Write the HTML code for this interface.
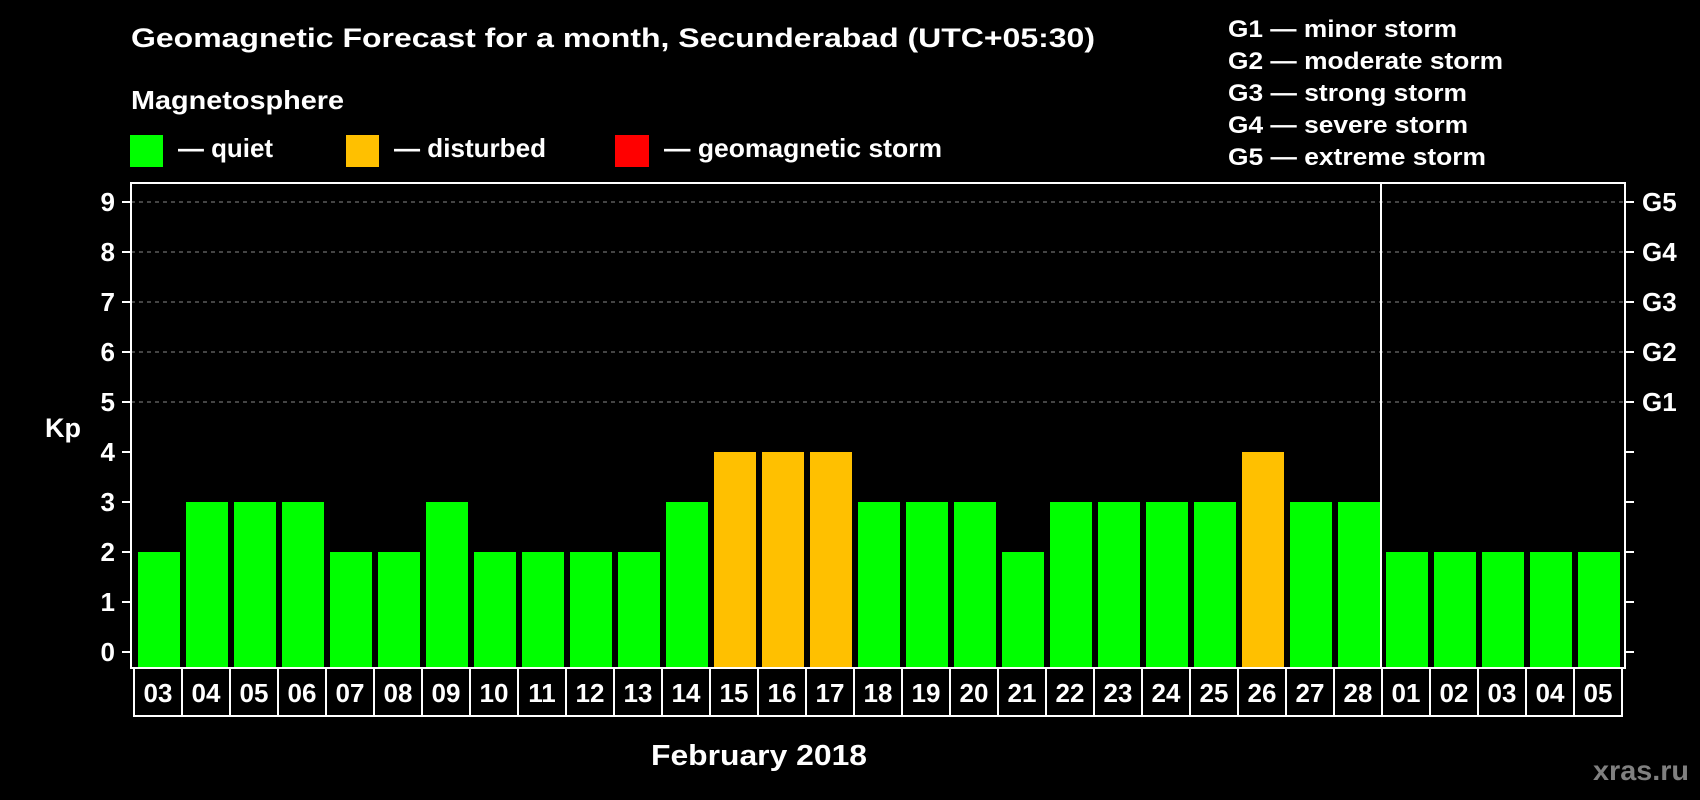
<!DOCTYPE html>
<html><head><meta charset="utf-8"><style>
html,body{margin:0;padding:0;background:#000;width:1700px;height:800px;overflow:hidden}
svg{display:block;font-family:"Liberation Sans",Arial,sans-serif;font-weight:bold}
</style></head><body>
<svg id="chart" width="1700" height="800" viewBox="0 0 1700 800" xmlns="http://www.w3.org/2000/svg">
<rect width="1700" height="800" fill="#000"/>
<text x="131" y="47" fill="#fff" font-size="27" textLength="964" lengthAdjust="spacingAndGlyphs">Geomagnetic Forecast for a month, Secunderabad (UTC+05:30)</text>
<text x="131" y="109" fill="#fff" font-size="26" textLength="213" lengthAdjust="spacingAndGlyphs">Magnetosphere</text>
<g>
<rect x="130" y="135" width="33" height="32" fill="#00ff00"/>
<text x="178" y="157" fill="#fff" font-size="26" textLength="95" lengthAdjust="spacingAndGlyphs">— quiet</text></g>
<g>
<rect x="346" y="135" width="33" height="32" fill="#ffc000"/>
<text x="394" y="157" fill="#fff" font-size="26" textLength="152" lengthAdjust="spacingAndGlyphs">— disturbed</text></g>
<g>
<rect x="615" y="135" width="34" height="32" fill="#ff0000"/>
<text x="664" y="157" fill="#fff" font-size="26" textLength="278" lengthAdjust="spacingAndGlyphs">— geomagnetic storm</text></g>
<g fill="#fff" font-size="24">
<text x="1228" y="37" textLength="229" lengthAdjust="spacingAndGlyphs">G1 — minor storm</text>
<text x="1228" y="69" textLength="275" lengthAdjust="spacingAndGlyphs">G2 — moderate storm</text>
<text x="1228" y="101" textLength="239" lengthAdjust="spacingAndGlyphs">G3 — strong storm</text>
<text x="1228" y="133" textLength="240" lengthAdjust="spacingAndGlyphs">G4 — severe storm</text>
<text x="1228" y="165" textLength="258" lengthAdjust="spacingAndGlyphs">G5 — extreme storm</text>
</g>
<g id="plot"></g>
<text x="63" y="437" fill="#fff" font-size="27" text-anchor="middle">Kp</text>
<text x="651" y="765" fill="#fff" font-size="29" textLength="216" lengthAdjust="spacingAndGlyphs">February 2018</text>
<text x="1593" y="780" fill="#808080" font-size="28" textLength="96" lengthAdjust="spacingAndGlyphs">xras.ru</text>
</svg>
<script>
const dates = ["03","04","05","06","07","08","09","10","11","12","13","14","15","16","17","18","19","20","21","22","23","24","25","26","27","28","01","02","03","04","05"];
const kpValues = [2,3,3,3,2,2,3,2,2,2,2,3,4,4,4,3,3,3,2,3,3,3,3,4,3,3,2,2,2,2,2];
const yTicks = [0,1,2,3,4,5,6,7,8,9];
const stormLabels = ["G1","G2","G3","G4","G5"];
const monthBreakIndex = 26;

const NS = "http://www.w3.org/2000/svg";
const g = document.getElementById("plot");
const L = 131, R = 1625, T = 183, B = 668;
const slot0 = 134, slotW = 48, barW = 42;
function yScale(v){ return 652 - 50 * v; }
function xSlot(i){ return slot0 + i * slotW; }
function mk(tag, attrs){ const e = document.createElementNS(NS, tag); for (const k in attrs) e.setAttribute(k, attrs[k]); g.appendChild(e); return e; }

// grid lines
for (const t of yTicks) {
  if (t >= 5) {
    const ln = mk("line", {x1:L, x2:R, y1:yScale(t), y2:yScale(t), stroke:"#888", "stroke-width":1, "stroke-dasharray":"4,4"});
    
    
  }
}
// bars
kpValues.forEach((v, i) => {
  const col = v >= 5 ? "#ff0000" : (v >= 4 ? "#ffc000" : "#00ff00");
  const y0 = yScale(v);
  const r = mk("rect", {x: xSlot(i) + 4, y: y0, width: barW, height: B - y0, fill: col});
  
  
});
// frame
const fr = mk("rect", {x:L, y:T, width:R-L, height:B-T, fill:"none", stroke:"#fff", "stroke-width":2});


const dv = mk("line", {x1:xSlot(monthBreakIndex)-1, x2:xSlot(monthBreakIndex)-1, y1:T, y2:B, stroke:"#fff", "stroke-width":2});


// y ticks & labels
yTicks.forEach(t => {
  const y = yScale(t);
  const tl = mk("line", {x1:122, x2:L, y1:y, y2:y, stroke:"#fff", "stroke-width":2});
  
  
  const tr = mk("line", {x1:R, x2:1634, y1:y, y2:y, stroke:"#fff", "stroke-width":2});
  
  
  const tx = mk("text", {x:115, y:y+9, fill:"#fff", "font-size":26, "text-anchor":"end"});
  tx.textContent = t;
  
  
});
stormLabels.forEach((s, i) => {
  const tx = mk("text", {x:1642, y:yScale(5+i)+9, fill:"#fff", "font-size":26});
  tx.textContent = s;
  
  
});
// date boxes
dates.forEach((d, i) => {
  const bx = mk("rect", {x:xSlot(i), y:B, width:slotW, height:48, fill:"none", stroke:"#fff", "stroke-width":2});
  
  
  const tx = mk("text", {x:xSlot(i)+slotW/2, y:B+34, fill:"#fff", "font-size":26, "text-anchor":"middle"});
  tx.textContent = d;
  
  
});
</script>
</body></html>
